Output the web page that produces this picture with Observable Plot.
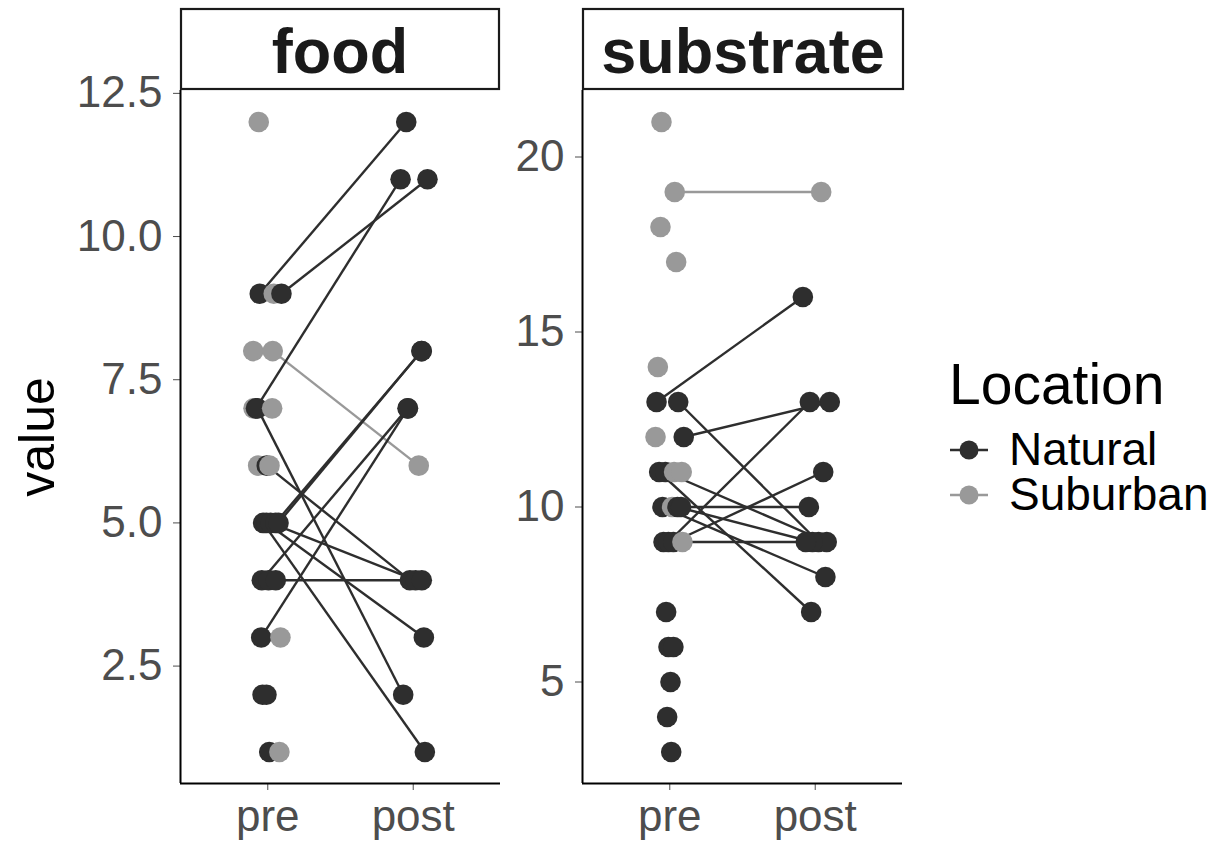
<!DOCTYPE html>
<html>
<head>
<meta charset="utf-8">
<script src="https://cdn.jsdelivr.net/npm/d3@7"></script>
<script src="https://cdn.jsdelivr.net/npm/@observablehq/plot@0.6"></script>
<style>
  html, body { margin: 0; padding: 0; background: #ffffff; }
  #root { position: relative; width: 1220px; height: 841px; overflow: hidden; background: #ffffff;
          font-family: "Liberation Sans", Arial, Helvetica, sans-serif; }
  #root > svg { position: absolute; top: 0; }
</style>
</head>
<body>
<div id="root"></div>
<script>
// ---------------- DATA ----------------
const locations = ["Natural", "Suburban"];
const timeLabels = ["pre", "post"];
const facetNames = ["food", "substrate"];

// food facet: one entry per subject
const foodLoc = ["Suburban","Natural","Suburban","Natural","Suburban","Suburban","Suburban","Natural","Natural","Suburban",
                 "Suburban","Natural","Suburban","Natural","Natural","Natural","Natural","Natural","Natural","Natural",
                 "Natural","Natural","Suburban","Natural","Natural","Natural","Suburban"];
const foodPre = [12, 9, 9, 9, 8, 8, 7, 7, 7, 7, 6, 6, 6, 5, 5, 5, 5, 5, 4, 4, 4, 3, 3, 2, 2, 1, 1];
const foodPreJitter = [-0.062, -0.055, 0.041, 0.094, -0.100, 0.034, -0.098, -0.081, -0.071, 0.030,
                       -0.066, -0.007, 0.012, -0.032, -0.009, 0.019, 0.053, 0.074, -0.041, 0.005,
                       0.055, -0.045, 0.087, -0.036, -0.009, 0.010, 0.080];
const foodPost = [null, 12, null, 11, null, 6, null, 11, 2, null,
                  null, 4, null, 1, 3, 4, 8, 8, 7, 4,
                  null, 7, null, null, null, null, null];
const foodPostJitter = [null, -0.048, null, 0.098, null, 0.038, null, -0.087, -0.069, null,
                        null, -0.023, null, 0.080, 0.073, 0.016, 0.059, 0.056, -0.039, 0.059,
                        null, -0.036, null, null, null, null, null];
const foodTicks = [2.5, 5.0, 7.5, 10.0, 12.5];

// substrate facet
const subLoc = ["Suburban","Suburban","Suburban","Suburban","Suburban","Natural","Natural","Suburban","Natural","Natural",
                "Natural","Suburban","Suburban","Natural","Suburban","Natural","Natural","Natural","Natural","Natural",
                "Suburban","Natural","Natural","Natural","Natural","Natural","Natural"];
const subPre = [21, 19, 18, 17, 14, 13, 13, 12, 12, 11, 11, 11, 11, 10, 10, 10, 10, 9, 9, 9, 9, 7, 6, 6, 5, 4, 3];
const subPreJitter = [-0.057, 0.034, -0.064, 0.044, -0.082, -0.091, 0.058, -0.098, 0.096, -0.073,
                      -0.030, 0.030, 0.082, -0.050, 0.016, 0.053, 0.077, -0.043, -0.009, 0.025,
                      0.087, -0.025, -0.009, 0.025, 0.005, -0.018, 0.010];
const subPost = [null, 19, null, null, null, 16, 9, null, 13, 7,
                 9, null, null, 8, null, 9, 10, 9, 13, 11,
                 null, null, null, null, null, null, null];
const subPostJitter = [null, 0.041, null, null, null, -0.085, 0.023, null, 0.100, -0.028,
                       0.079, null, null, 0.070, null, -0.019, -0.044, -0.065, -0.037, 0.055,
                       null, null, null, null, null, null, null];
const subTicks = [5, 10, 15, 20];

const colorRange = ["#2e2e2e", "#999999"];

// ---------------- BUILD ----------------
const root = document.getElementById("root");
const FONT = '"Liberation Sans", Arial, Helvetica, sans-serif';

function buildRows(loc, pre, preJ, post, postJ) {
  const pts = [], links = [];
  loc.forEach((l, i) => pts.push({x: 1 + preJ[i], y: pre[i], loc: l}));
  loc.forEach((l, i) => {
    if (post[i] != null) {
      pts.push({x: 2 + postJ[i], y: post[i], loc: l});
      links.push({x1: 1 + preJ[i], y1: pre[i], x2: 2 + postJ[i], y2: post[i], loc: l});
    }
  });
  return {pts, links};
}

function panel({loc, pre, preJ, post, postJ, ticks, fmt, left, width, marginLeft}) {
  const {pts, links} = buildRows(loc, pre, preJ, post, postJ);
  const all = pts.map(d => d.y);
  const lo = d3.min(all), hi = d3.max(all), pad = (hi - lo) * 0.05;
  const yDomain = [lo - pad, hi + pad];
  const svg = Plot.plot({
    width, height: 841,
    marginLeft, marginRight: width - marginLeft - 320, marginTop: 90, marginBottom: 58,
    style: {background: "transparent", fontFamily: FONT, fontSize: "44px", color: "#4d4d4d", overflow: "visible"},
    x: {domain: [0.4, 2.6], ticks: [1, 2], tickFormat: d => timeLabels[Math.round(d) - 1], tickSize: 7, tickPadding: 9, label: null},
    y: {domain: yDomain, ticks, tickFormat: fmt, tickSize: 7, tickPadding: 11, label: null},
    color: {domain: locations, range: colorRange},
    marks: [
      Plot.link(links, {x1: "x1", y1: "y1", x2: "x2", y2: "y2", stroke: "loc", strokeWidth: 2.4}),
      Plot.dot(pts, {x: "x", y: "y", fill: "loc", r: 10.3}),
      Plot.ruleX([0.4], {stroke: "#000000", strokeWidth: 2}),
      Plot.ruleY([yDomain[0]], {stroke: "#000000", strokeWidth: 2})
    ]
  });
  svg.style.left = left + "px";
  root.append(svg);
}

panel({loc: foodLoc, pre: foodPre, preJ: foodPreJitter, post: foodPost, postJ: foodPostJitter,
       ticks: foodTicks, fmt: d3.format(".1f"), left: 0, width: 505, marginLeft: 180});
panel({loc: subLoc, pre: subPre, preJ: subPreJitter, post: subPost, postJ: subPostJitter,
       ticks: subTicks, fmt: d3.format("d"), left: 505, width: 410, marginLeft: 77});

// overlay: strips, axis title, legend
const ov = d3.select(root).append("svg")
  .attr("width", 1220).attr("height", 841)
  .style("left", "0px").style("pointer-events", "none")
  .style("font-family", FONT);

const strips = [{x: 181, w: 318, name: facetNames[0]}, {x: 583, w: 320, name: facetNames[1]}];
strips.forEach(s => {
  ov.append("rect").attr("x", s.x).attr("y", 9).attr("width", s.w).attr("height", 80)
    .attr("fill", "#ffffff").attr("stroke", "#1a1a1a").attr("stroke-width", 2.2);
  ov.append("text").attr("x", s.x + s.w / 2).attr("y", 73).attr("text-anchor", "middle")
    .attr("font-size", 63).attr("font-weight", "bold").attr("fill", "#1a1a1a").text(s.name);
});

ov.append("text").attr("transform", "translate(54,437) rotate(-90)").attr("text-anchor", "middle")
  .attr("font-size", 50).attr("fill", "#000000").text("value");

ov.append("text").attr("x", 949).attr("y", 404).attr("font-size", 57).attr("fill", "#000000").text("Location");
locations.forEach((l, i) => {
  const cy = 450 + i * 45;
  ov.append("line").attr("x1", 950).attr("x2", 988).attr("y1", cy).attr("y2", cy)
    .attr("stroke", colorRange[i]).attr("stroke-width", 2.3);
  ov.append("circle").attr("cx", 969).attr("cy", cy).attr("r", 9.5).attr("fill", colorRange[i]);
  ov.append("text").attr("x", 1009).attr("y", cy + 15).attr("font-size", 46).attr("fill", "#000000").text(l);
});
</script>
</body>
</html>
